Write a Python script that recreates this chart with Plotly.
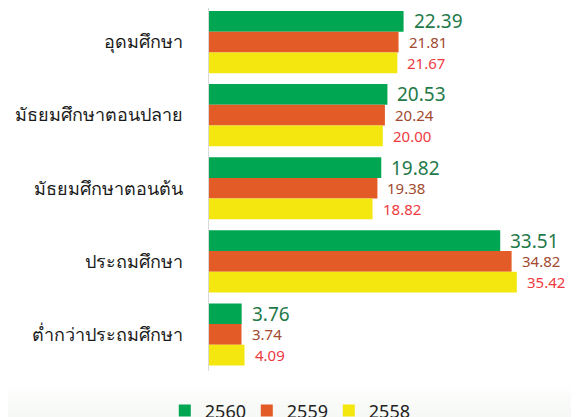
import plotly.graph_objects as go

categories = ["อุดมศึกษา", "มัธยมศึกษาตอนปลาย", "มัธยมศึกษาตอนต้น", "ประถมศึกษา", "ต่ำกว่าประถมศึกษา"]
series_names = ["2560", "2559", "2558"]
v2560 = [22.39, 20.53, 19.82, 33.51, 3.76]
v2559 = [21.81, 20.24, 19.38, 34.82, 3.74]
v2558 = [21.67, 20.00, 18.82, 35.42, 4.09]

values = [v2560, v2559, v2558]
bar_colors = ["#00a651", "#e35b26", "#f3e70f"]
label_colors = ["#1f7a4a", "#a24a30", "#ee3a3f"]
label_sizes = [19, 15, 15]
label_shift = [20.7, 0, -20.7]

fig = go.Figure()
for name, vals, col in zip(series_names, values, bar_colors):
    fig.add_trace(go.Bar(
        y=categories, x=vals, name=name, orientation="h",
        marker=dict(color=col, line=dict(width=0)),
    ))

annotations = []
for vals, lc, ls, sh in zip(values, label_colors, label_sizes, label_shift):
    for cat, v in zip(categories, vals):
        annotations.append(dict(
            x=v, y=cat, xref="x", yref="y", text=f"{v:.2f}",
            showarrow=False, xanchor="left", yanchor="middle",
            xshift=8, yshift=sh,
            font=dict(family="Noto Sans", size=ls, color=lc),
        ))

# faint gradient at the bottom
shapes = []
n = 12
top, bottom = -0.034, -0.13
step = (top - bottom) / n
for i in range(n):
    y1 = top - i * step
    shapes.append(dict(type="rect", xref="paper", yref="paper",
                       x0=-0.6, x1=1.05, y0=y1 - step, y1=y1,
                       fillcolor="#eef3ec", opacity=(i + 1) / n * 0.6,
                       line=dict(width=0), layer="below"))

fig.update_layout(
    width=571, height=409,
    margin=dict(l=201, r=5, t=0, b=46, autoexpand=False),
    paper_bgcolor="white", plot_bgcolor="rgba(0,0,0,0)",
    barmode="group", bargap=0.15, bargroupgap=0,
    showlegend=True,
    legend=dict(orientation="h", xref="container", x=0.49, xanchor="center",
                y=-0.059, yanchor="top",
                font=dict(family="Noto Sans", size=18, color="#222222"),
                traceorder="normal", entrywidth=37, entrywidthmode="pixels",
                itemwidth=30, bgcolor="rgba(0,0,0,0)"),
    xaxis=dict(range=[0, 42], showgrid=False, showticklabels=False, zeroline=False,
               showline=False, ticks=""),
    yaxis=dict(range=[4.5, -0.466], showgrid=False, showline=True, linecolor="#d9d9d9",
               linewidth=1, ticks="", ticklabelstandoff=21,
               tickfont=dict(family="Noto Sans, DejaVu Sans, sans-serif", size=18, color="#1a1a1a")),
    annotations=annotations, shapes=shapes,
)

fig.write_html("out.html")
